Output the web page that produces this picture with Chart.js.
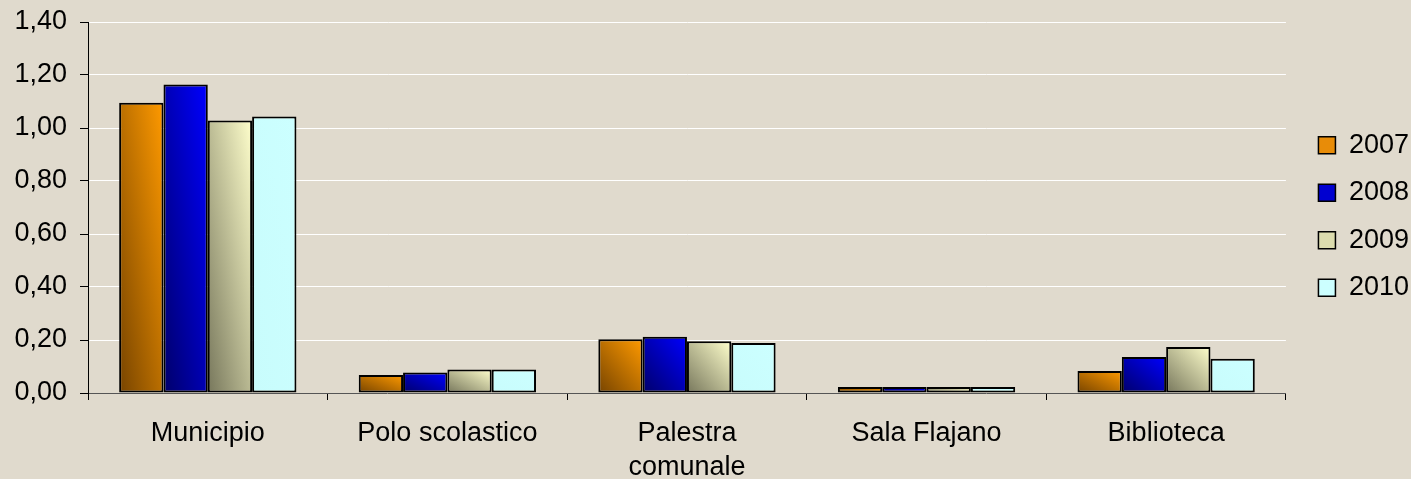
<!DOCTYPE html>
<html>
<head>
<meta charset="utf-8">
<script src="https://cdn.jsdelivr.net/npm/chart.js@4/dist/chart.umd.min.js"></script>
<style>
	body { margin: 0; background: #e0dacd; }
	#wrap { width: 1411px; height: 479px; }
</style>
</head>
<body>
<div id="wrap"><canvas id="myChart" width="1411" height="479"></canvas></div>
<script>
var categories = ['Municipio', 'Polo scolastico', ['Palestra', 'comunale'], 'Sala Flajano', 'Biblioteca'];
var years = ['2007', '2008', '2009', '2010'];
var v2007 = [1.095, 0.068, 0.203, 0.023, 0.083];
var v2008 = [1.164, 0.077, 0.212, 0.023, 0.136];
var v2009 = [1.028, 0.089, 0.195, 0.023, 0.174];
var v2010 = [1.043, 0.089, 0.189, 0.023, 0.129];
var yTicks = [0, 0.2, 0.4, 0.6, 0.8, 1.0, 1.2, 1.4];

// dark -> light for each year, plus a flat colour for the legend box
var fills = [
	{ dark: '#774400', light: '#ff9a00', flat: '#e88c08' },
	{ dark: '#00006a', light: '#0000ff', flat: '#0000d0' },
	{ dark: '#77775c', light: '#ffffcc', flat: '#dcdcae' },
	{ dark: '#c8fcfc', light: '#ccffff', flat: '#ccffff' }
];

var ctx;
var chart;

// gradient from bottom-left to top-right of the bar, stretched to the bar like excel does
function barFill(c)
{
	var f = fills[c.datasetIndex];
	if (c.dataIndex === undefined) return f.flat;
	var el = c.chart.getDatasetMeta(c.datasetIndex).data[c.dataIndex];
	if (!el || el.width === undefined || isNaN(el.x) || isNaN(el.y)) return f.flat;
	var x0 = el.x - el.width / 2;
	var w = el.width;
	var h = Math.max(1, el.base - el.y);
	var k = 2 / (1 / (w * w) + 1 / (h * h));
	var g = c.chart.ctx.createLinearGradient(x0, el.base, x0 + k / w, el.base - k / h);
	g.addColorStop(0, f.dark);
	g.addColorStop(1, f.light);
	return g;
}

var bgPlugin = {
	id: 'bg',
	beforeDraw: function(ch) {
		var c = ch.ctx;
		c.save();
		c.fillStyle = '#e0dacd';
		c.fillRect(0, 0, ch.width, ch.height);
		c.restore();
	}
};

// nudge the legend a bit right and down, excel leaves a gap after the plot
var legendNudge = {
	id: 'legendNudge',
	afterLayout: function(ch) {
		var lg = ch.legend;
		lg.left += 12; lg.right += 12;
		lg.top += 9; lg.bottom += 9;
	}
};

var sets = [v2007, v2008, v2009, v2010].map(function(vals, i) {
	return {
		label: years[i],
		data: vals,
		backgroundColor: barFill,
		borderColor: '#000000',
		borderWidth: 2,
		borderSkipped: false,
		categoryPercentage: 0.74,
		barPercentage: 1.0
	};
});

window.onload = function()
{
	Chart.defaults.font.family = "'Liberation Sans', Arial, sans-serif";
	Chart.defaults.font.size = 27;
	Chart.defaults.color = '#000000';

	ctx = document.getElementById('myChart').getContext('2d');
	chart = new Chart(ctx, {
		type: 'bar',
		data: { labels: categories, datasets: sets },
		plugins: [bgPlugin, legendNudge],
		options: {
			responsive: false,
			animation: false,
			layout: { padding: { top: 22, right: 4, bottom: 0, left: 0 } },
			plugins: {
				tooltip: { enabled: false },
				legend: {
					position: 'right',
					fullSize: false,
					labels: {
						boxWidth: 17,
						boxHeight: 17,
						padding: 20.5,
						font: { size: 27 },
						generateLabels: function(ch) {
							return years.map(function(y, i) {
								return {
									text: y,
									fillStyle: fills[i].flat,
									strokeStyle: '#000000',
									lineWidth: 1.5,
									datasetIndex: i
								};
							});
						}
					}
				}
			},
			scales: {
				x: {
					grid: { offset: true, drawOnChartArea: false, tickLength: 7, color: '#000000' },
					border: { color: '#555555', width: 1 },
					ticks: { padding: 16, font: { size: 27, lineHeight: 1.27 } },
					afterFit: function(s) { s.height = 86; }
				},
				y: {
					min: 0,
					max: 1.4,
					afterBuildTicks: function(s) { s.ticks = yTicks.map(function(v) { return { value: v }; }); },
					grid: { color: '#ffffff', lineWidth: 1, tickColor: '#000000', tickLength: 8 },
					border: { color: '#000000', width: 1 },
					ticks: {
						padding: 13,
						callback: function(v) { return v.toFixed(2).replace('.', ','); }
					},
					afterFit: function(s) { s.width = 88; s.paddingTop = 0; s.paddingBottom = 0; }
				}
			}
		}
	});
	// second pass so the gradients know where the bars are
	chart.update();
}
</script>
</body>
</html>
